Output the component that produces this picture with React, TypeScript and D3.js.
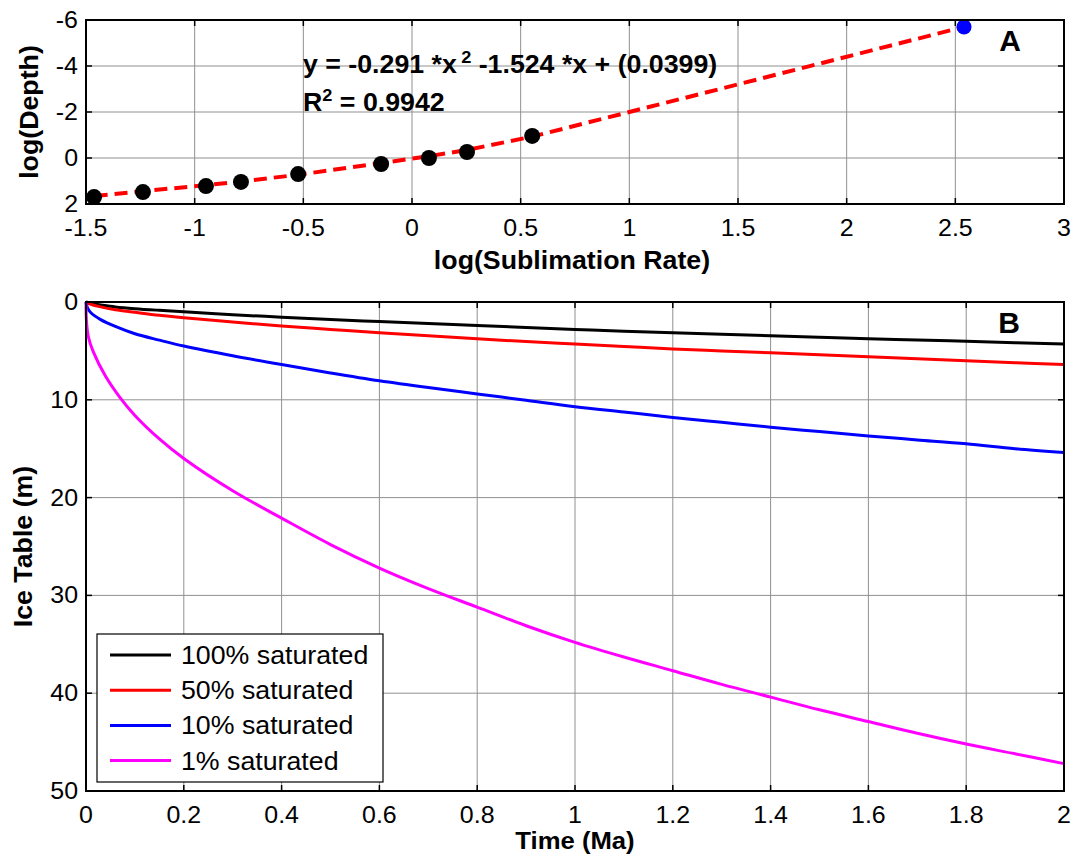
import React from "react";
import * as d3 from "d3";

// ---------- Panel A data ----------
const obsX = [-1.463, -1.238, -0.948, -0.787, -0.524, -0.142, 0.078, 0.253, 0.553];
const obsY = [1.70, 1.48, 1.22, 1.04, 0.70, 0.26, 0.0, -0.26, -0.96];
const fitX = [-1.46, -1.238, -0.948, -0.787, -0.524, -0.142, 0.078, 0.253, 0.553, 1.0, 2.54];
const fitY = [1.65, 1.44, 1.18, 1.02, 0.73, 0.22, -0.08, -0.35, -0.93, -2.0, -5.7];
const extrapX = [2.54];
const extrapY = [-5.7];
const aXTicks = [-1.5, -1, -0.5, 0, 0.5, 1, 1.5, 2, 2.5, 3];
const aYTicks = [-6, -4, -2, 0, 2];

// ---------- Panel B data ----------
const sat100T = [0, 0.01, 0.03, 0.06, 0.1, 0.15, 0.2, 0.3, 0.4, 0.5, 0.6, 0.7, 0.8, 0.9, 1.0, 1.1, 1.2, 1.3, 1.4, 1.5, 1.6, 1.7, 1.8, 1.9, 2.0];
const sat100D = [0, 0.15, 0.3, 0.5, 0.68, 0.85, 1.0, 1.3, 1.55, 1.8, 2.0, 2.2, 2.4, 2.6, 2.8, 3.0, 3.15, 3.3, 3.45, 3.6, 3.75, 3.88, 4.02, 4.16, 4.3];
const sat50T = [0, 0.01, 0.03, 0.06, 0.1, 0.15, 0.2, 0.3, 0.4, 0.5, 0.6, 0.7, 0.8, 0.9, 1.0, 1.1, 1.2, 1.3, 1.4, 1.5, 1.6, 1.7, 1.8, 1.9, 2.0];
const sat50D = [0, 0.25, 0.5, 0.8, 1.05, 1.35, 1.6, 2.05, 2.45, 2.8, 3.15, 3.45, 3.75, 4.05, 4.3, 4.55, 4.8, 5.0, 5.2, 5.4, 5.6, 5.8, 6.0, 6.2, 6.4];
const sat10T = [0, 0.003, 0.01, 0.03, 0.06, 0.1, 0.15, 0.2, 0.3, 0.4, 0.5, 0.6, 0.7, 0.8, 0.9, 1.0, 1.1, 1.2, 1.3, 1.4, 1.5, 1.6, 1.7, 1.8, 1.9, 2.0];
const sat10D = [0, 0.6, 1.1, 1.8, 2.5, 3.25, 3.9, 4.5, 5.5, 6.4, 7.25, 8.05, 8.75, 9.4, 10.05, 10.7, 11.25, 11.8, 12.3, 12.8, 13.25, 13.7, 14.1, 14.5, 15.0, 15.4];
const sat1T = [0, 0.001, 0.005, 0.015, 0.04, 0.07, 0.1, 0.15, 0.2, 0.3, 0.4, 0.5, 0.6, 0.7, 0.8, 0.9, 1.0, 1.1, 1.2, 1.3, 1.4, 1.5, 1.6, 1.7, 1.8, 1.9, 2.0];
const sat1D = [0, 2.0, 3.6, 5.1, 7.6, 9.8, 11.6, 14.0, 16.0, 19.3, 22.1, 24.8, 27.2, 29.3, 31.2, 33.1, 34.8, 36.3, 37.7, 39.1, 40.4, 41.7, 42.9, 44.1, 45.2, 46.2, 47.2];
const seriesNames = ["100% saturated", "50% saturated", "10% saturated", "1% saturated"];
const seriesColors = ["#000000", "#ff0000", "#0000ff", "#ff00ff"];
const bXTicks = [0, 0.2, 0.4, 0.6, 0.8, 1, 1.2, 1.4, 1.6, 1.8, 2];
const bYTicks = [0, 10, 20, 30, 40, 50];

const FONT = "Arial, 'Liberation Sans', Helvetica, sans-serif";
const SX = 1.07;

function ST({ x, y, sx = SX, rot = 0, anchor = "start", size = 24, bold = false, children }: any) {
  return (
    <g transform={`translate(${x},${y}) rotate(${rot}) scale(${sx},1)`}>
      <text x={0} y={0} textAnchor={anchor} fontSize={size} fontWeight={bold ? "bold" : "normal"} fontFamily={FONT} fill="#000">
        {children}
      </text>
    </g>
  );
}

function Grid({ x, y, xTicks, yTicks }: any) {
  const [x0, x1] = x.range();
  const [ya, yb] = y.range();
  const top = Math.min(ya, yb), bot = Math.max(ya, yb);
  return (
    <g>
      {xTicks.map((t: number, i: number) => (
        <line key={"gx" + i} x1={x(t)} x2={x(t)} y1={top} y2={bot} stroke="#909090" strokeWidth={1} />
      ))}
      {yTicks.map((t: number, i: number) => (
        <line key={"gy" + i} x1={x0} x2={x1} y1={y(t)} y2={y(t)} stroke="#909090" strokeWidth={1} />
      ))}
    </g>
  );
}

function Axes({ x, y, xTicks, yTicks }: any) {
  const [x0, x1] = x.range();
  const [ya, yb] = y.range();
  const top = Math.min(ya, yb), bot = Math.max(ya, yb);
  const tl = 6;
  return (
    <g>
      {xTicks.map((t: number, i: number) => (
        <g key={"tx" + i}>
          <line x1={x(t)} x2={x(t)} y1={bot} y2={bot - tl} stroke="#000" strokeWidth={1.5} />
          <line x1={x(t)} x2={x(t)} y1={top} y2={top + tl} stroke="#000" strokeWidth={1.5} />
          <ST x={x(t)} y={bot + 32} anchor="middle" size={24} sx={1.04}>
            {String(t)}
          </ST>
        </g>
      ))}
      {yTicks.map((t: number, i: number) => (
        <g key={"ty" + i}>
          <line x1={x0} x2={x0 + tl} y1={y(t)} y2={y(t)} stroke="#000" strokeWidth={1.5} />
          <line x1={x1} x2={x1 - tl} y1={y(t)} y2={y(t)} stroke="#000" strokeWidth={1.5} />
          <ST x={x0 - 8} y={y(t) + 8} anchor="end" size={24} sx={1.04}>
            {String(t)}
          </ST>
        </g>
      ))}
      <rect x={x0} y={top} width={x1 - x0} height={bot - top} fill="none" stroke="#000" strokeWidth={2} />
    </g>
  );
}

export default function App() {
  // Panel A scales
  const ax = d3.scaleLinear().domain([-1.5, 3]).range([86, 1064]);
  const ay = d3.scaleLinear().domain([-6, 2]).range([20, 204]);
  // Panel B scales
  const bx = d3.scaleLinear().domain([0, 2]).range([86, 1064]);
  const by = d3.scaleLinear().domain([0, 50]).range([302, 791]);

  const fitPts = fitX.map((v, i) => [v, fitY[i]] as [number, number]);
  const fitLine = d3.line<[number, number]>().x((d) => ax(d[0])).y((d) => ay(d[1]));

  const bLine = d3
    .line<[number, number]>()
    .x((d) => bx(d[0]))
    .y((d) => by(d[1]))
    .curve(d3.curveCatmullRom.alpha(0.5));

  const series = [
    [sat100T, sat100D],
    [sat50T, sat50D],
    [sat10T, sat10D],
    [sat1T, sat1D],
  ].map(([t, dd]) => t.map((v, i) => [v, dd[i]] as [number, number]));

  const legX = 97, legY = 634, legW = 286, legH = 148;

  return (
    <svg
      width={1073}
      height={858}
      style={{ position: "absolute", left: 0, top: 0, background: "#fff" }}
      fontFamily={FONT}
    >
      <rect x={0} y={0} width={1073} height={858} fill="#fff" />

      {/* ---------------- Panel A ---------------- */}
      <Grid x={ax} y={ay} xTicks={aXTicks} yTicks={aYTicks} />
      <path d={fitLine(fitPts) || ""} fill="none" stroke="#ff0000" strokeWidth={4} strokeDasharray="13,7" />
      {obsX.map((v, i) => (
        <circle key={"o" + i} cx={ax(v)} cy={ay(obsY[i])} r={8} fill="#000" />
      ))}
      {extrapX.map((v, i) => (
        <circle key={"e" + i} cx={ax(v)} cy={ay(extrapY[i])} r={7.5} fill="#0000ff" />
      ))}
      <Axes x={ax} y={ay} xTicks={aXTicks} yTicks={aYTicks} />
      <ST x={303} y={73} size={25} bold>
        y = -0.291 *x
        <tspan dx={4} dy={-10} fontSize={17}>2</tspan>
        <tspan dy={10}> -1.524 *x + (0.0399)</tspan>
      </ST>
      <ST x={303} y={111} size={25} bold>
        R<tspan dy={-10} fontSize={17}>2</tspan>
        <tspan dy={10}> = 0.9942</tspan>
      </ST>
      <ST x={1010} y={51} size={30} bold anchor="middle" sx={1}>A</ST>
      <ST x={572} y={269} size={25} bold anchor="middle">
        log(Sublimation Rate)
      </ST>
      <ST x={38} y={112} rot={-90} size={25} bold anchor="middle">
        log(Depth)
      </ST>

      {/* ---------------- Panel B ---------------- */}
      <Grid x={bx} y={by} xTicks={bXTicks} yTicks={bYTicks} />
      {series.map((pts, i) => (
        <path key={"s" + i} d={bLine(pts) || ""} fill="none" stroke={seriesColors[i]} strokeWidth={3} />
      ))}
      <Axes x={bx} y={by} xTicks={bXTicks} yTicks={bYTicks} />
      <ST x={1009} y={333} size={30} bold anchor="middle" sx={1}>B</ST>
      <ST x={575} y={849} size={24} bold anchor="middle">
        Time (Ma)
      </ST>
      <ST x={32} y={(302 + 791) / 2} rot={-90} size={25} bold anchor="middle">
        Ice Table (m)
      </ST>

      {/* Legend */}
      <rect x={legX} y={legY} width={legW} height={legH} fill="#fff" stroke="#000" strokeWidth={1.2} />
      {seriesNames.map((n, i) => {
        const ly = legY + 21 + i * 35.2;
        return (
          <g key={"l" + i}>
            <line x1={110} x2={171} y1={ly} y2={ly} stroke={seriesColors[i]} strokeWidth={3} />
            <ST x={181} y={ly + 9} size={25}>
              {n}
            </ST>
          </g>
        );
      })}
    </svg>
  );
}
